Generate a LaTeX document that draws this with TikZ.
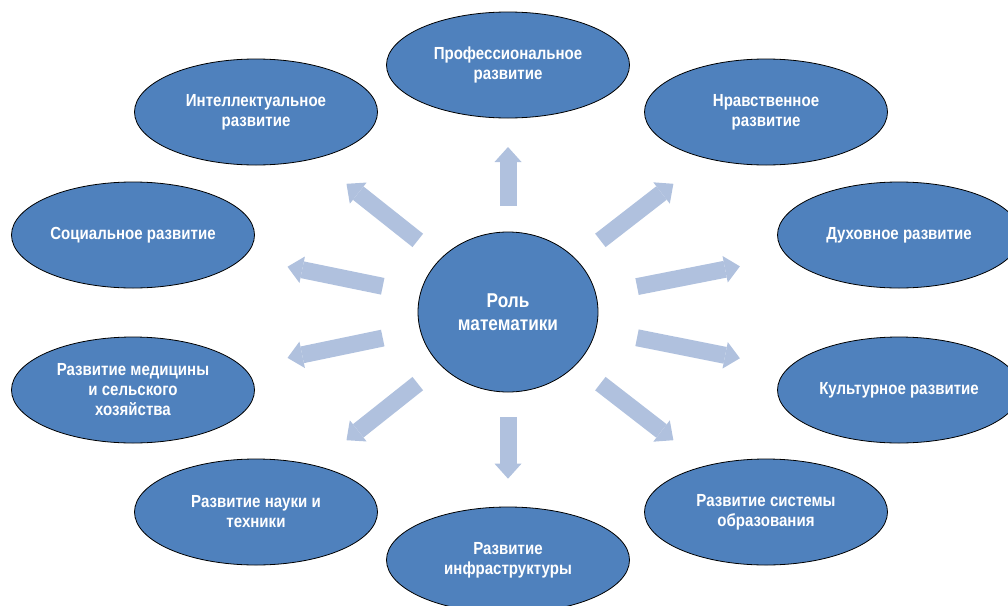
\documentclass[tikz,border=0pt]{standalone}
\usepackage{fontspec}
\newfontfamily\lbl{Liberation Sans}[FakeStretch=0.86]
\usetikzlibrary{shapes.geometric,arrows.meta,calc}
\definecolor{ellblue}{HTML}{4F81BD}
\definecolor{arrowblue}{HTML}{B0C1DE}
\tikzset{
  bubble/.style={ellipse, draw=black, line width=0.8pt, fill=ellblue, text=white,
    font=\lbl\bfseries\fontsize{17.5}{20}\selectfont, align=center,
    minimum width=243pt, minimum height=106pt, inner sep=0pt},
  hub/.style={bubble, minimum width=180pt, minimum height=160pt,
    font=\lbl\bfseries\fontsize{20}{23}\selectfont},
  bigarrow/.style={draw=arrowblue, line width=17pt,
    -{Triangle[length=15pt, width=27pt, line width=0pt]}}
}
\begin{document}
\begin{tikzpicture}[x=1pt,y=-1pt]
\useasboundingbox (0,0) rectangle (1008,605);
\clip (0,0) rectangle (1008,605);
\node[hub] (c) at (508,312) {Роль\\математики};
\node[bubble] (pro) at (508,65) {Профессиональное\\развитие};
\node[bubble] (int) at (256,112) {Интеллектуальное\\развитие};
\node[bubble] (nrav) at (766,112) {Нравственное\\развитие};
\node[bubble] (soc) at (133,235) {Социальное развитие};
\node[bubble] (med) at (133,390) {Развитие медицины\\и сельского\\хозяйства};
\node[bubble] (dux) at (899,235) {Духовное развитие};
\node[bubble] (kult) at (899,390) {Культурное развитие};
\node[bubble] (nauk) at (256,512) {Развитие науки и\\техники};
\node[bubble] (infra) at (508,560) {Развитие\\инфраструктуры};
\node[bubble] (obr) at (766,512) {Развитие системы\\образования};

\draw[bigarrow] ($(c)!0.43!(pro)$) -- ($(c)!0.668!(pro)$);
\draw[bigarrow] ($(c)!0.425!(infra)$) -- ($(c)!0.672!(infra)$);
\draw[bigarrow] ($(c)!0.358!(int)$) -- ($(c)!0.641!(int)$);
\draw[bigarrow] ($(c)!0.358!(nrav)$) -- ($(c)!0.641!(nrav)$);
\draw[bigarrow] ($(c)!0.358!(nauk)$) -- ($(c)!0.641!(nauk)$);
\draw[bigarrow] ($(c)!0.358!(obr)$) -- ($(c)!0.641!(obr)$);
\draw[bigarrow] ($(c)!0.334!(soc)$) -- ($(c)!0.588!(soc)$);
\draw[bigarrow] ($(c)!0.334!(med)$) -- ($(c)!0.588!(med)$);
\draw[bigarrow] ($(c)!0.33!(dux)$) -- ($(c)!0.593!(dux)$);
\draw[bigarrow] ($(c)!0.33!(kult)$) -- ($(c)!0.593!(kult)$);
\end{tikzpicture}
\end{document}
